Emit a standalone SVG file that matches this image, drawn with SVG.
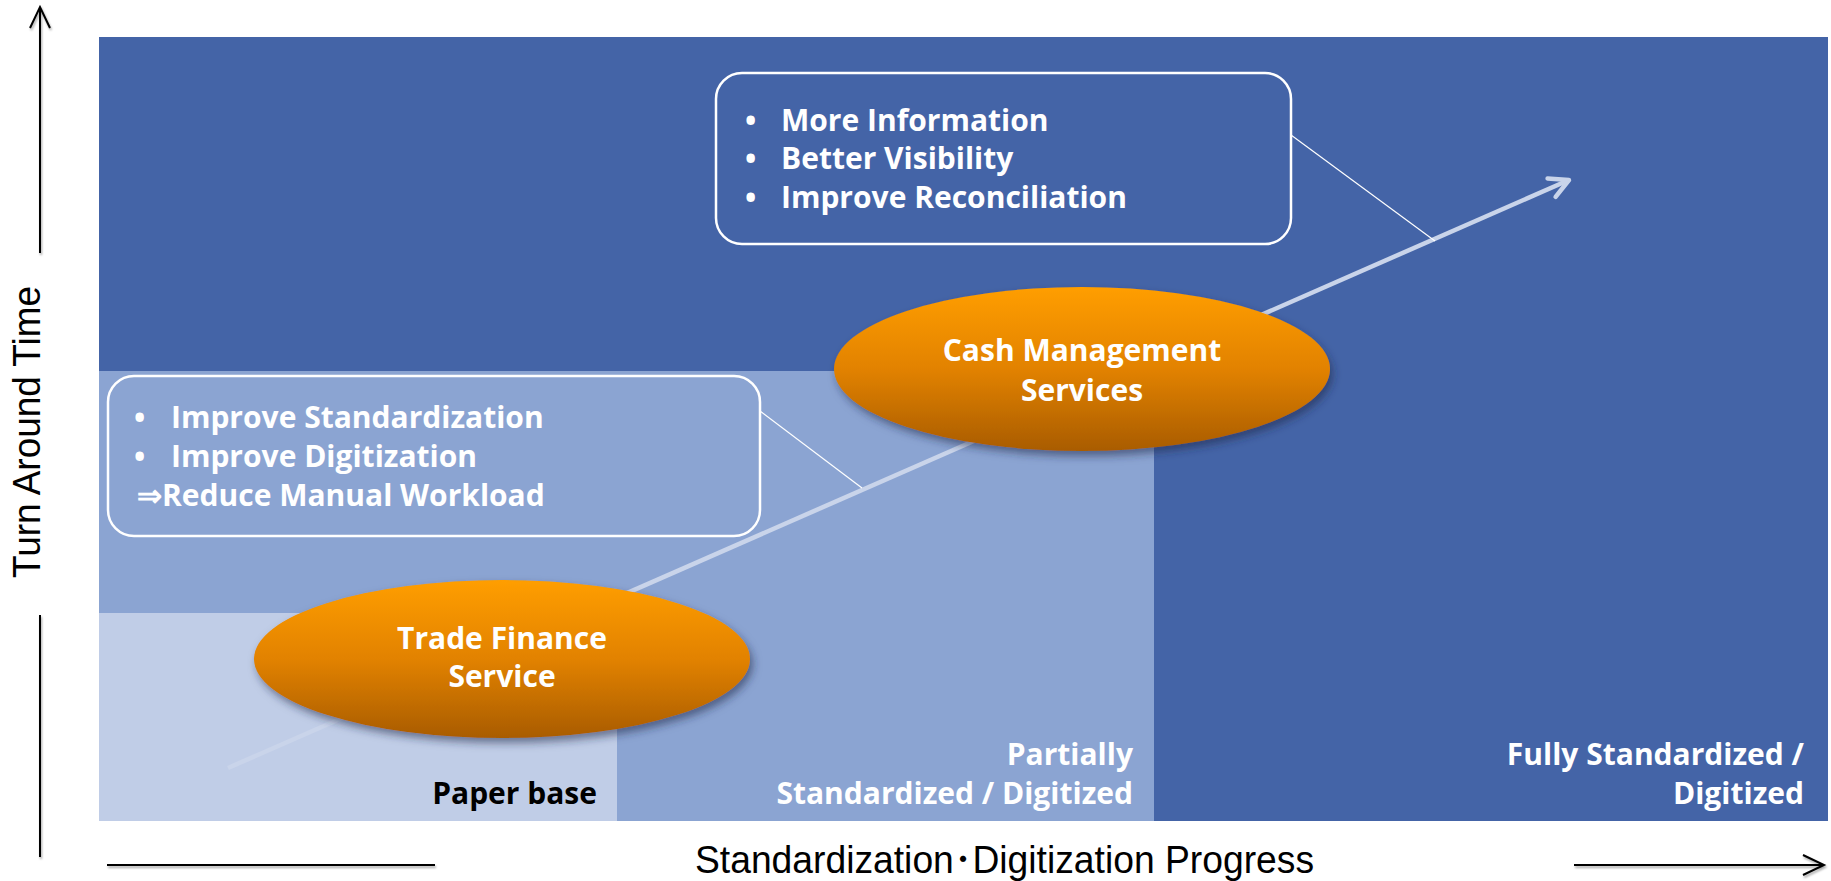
<svg xmlns="http://www.w3.org/2000/svg" width="1831" height="881" viewBox="0 0 1831 881">
<defs>
<style>
.ax{stroke:#000;stroke-width:2;fill:none}
.axt{font-family:"Liberation Sans",Arial,"Noto Sans CJK JP",sans-serif;font-size:38px;fill:#000}
.bt{font-family:"Open Sans","Noto Sans",sans-serif;font-weight:bold;font-size:30px;fill:#fff}
.lbl{font-family:"Open Sans","Noto Sans",sans-serif;font-weight:bold;font-size:30px;text-anchor:end}
.box{fill:none;stroke:#fff;stroke-width:2.5}
.lead{stroke:#fff;stroke-width:1.2;fill:none}
.ell{fill:url(#og);filter:url(#sh)}
.et{font-family:"Open Sans","Noto Sans",sans-serif;font-weight:bold;font-size:30px;fill:#fff;text-anchor:middle}
</style>
<linearGradient id="og" x1="0" y1="0" x2="0" y2="1">
<stop offset="0" stop-color="#FF9E00"/>
<stop offset="0.5" stop-color="#E28200"/>
<stop offset="1" stop-color="#A95C00"/>
</linearGradient>
<filter id="sh" x="-10%" y="-20%" width="125%" height="150%">
<feDropShadow dx="3" dy="5" stdDeviation="4" flood-color="#1a2a4a" flood-opacity="0.55"/>
</filter>
<filter id="ash" x="-5%" y="-50%" width="110%" height="300%">
<feDropShadow dx="1" dy="2" stdDeviation="1.2" flood-color="#000" flood-opacity="0.35"/>
</filter>
<marker id="blk" markerUnits="userSpaceOnUse" markerWidth="40" markerHeight="40" viewBox="-30 -20 40 40" refX="0" refY="0" orient="auto" overflow="visible">
<path d="M-21,-10 L0,0 L-21,10" fill="none" stroke="#000" stroke-width="2"/>
</marker>
<marker id="big" markerUnits="userSpaceOnUse" markerWidth="40" markerHeight="40" viewBox="-30 -20 40 40" refX="0" refY="0" orient="auto" overflow="visible">
<path d="M-19,-10 L0,0 L-19,10" fill="none" stroke="#C9D4EA" stroke-width="4.5" stroke-linecap="round" stroke-linejoin="round"/>
</marker>
</defs>

<g id="background">
<rect x="99" y="37" width="1729" height="784" fill="#4464A7"/>
<rect x="99" y="371" width="1055" height="450" fill="#8BA4D2"/>
<rect x="99" y="613" width="518" height="208" fill="#C0CDE7"/>
</g>

<g id="axes">
<g filter="url(#ash)">
<line class="ax" x1="40" y1="253" x2="40" y2="7" marker-end="url(#blk)"/>
<line class="ax" x1="40" y1="615" x2="40" y2="857"/>
<line class="ax" x1="107" y1="865" x2="435" y2="865"/>
<line class="ax" x1="1574" y1="865" x2="1824" y2="865" marker-end="url(#blk)"/>
</g>
<text class="axt" transform="translate(40 578) rotate(-90)" textLength="292" lengthAdjust="spacingAndGlyphs">Turn Around Time</text>
<text class="axt" x="695" y="873" textLength="619" lengthAdjust="spacingAndGlyphs">Standardization･Digitization Progress</text>
</g>

<g id="box-top">
<rect class="box" x="716" y="73" width="575" height="171" rx="26"/>
<text class="bt" x="745" y="131">•</text>
<text class="bt" x="781" y="131">More Information</text>
<text class="bt" x="745" y="169">•</text>
<text class="bt" x="781" y="169">Better Visibility</text>
<text class="bt" x="745" y="208">•</text>
<text class="bt" x="781" y="208">Improve Reconciliation</text>
</g>

<g id="box-mid">
<rect class="box" x="108" y="376" width="652" height="160" rx="26"/>
<text class="bt" x="134" y="428">•</text>
<text class="bt" x="171" y="428">Improve Standardization</text>
<text class="bt" x="134" y="467">•</text>
<text class="bt" x="171" y="467">Improve Digitization</text>
<text class="bt" x="137" y="506">⇒Reduce Manual Workload</text>
</g>

<g id="connectors">
<line x1="228" y1="768" x2="1569" y2="180" stroke="#C9D4EA" stroke-width="4.5" marker-end="url(#big)"/>
<line class="lead" x1="1291" y1="135" x2="1435" y2="241"/>
<line class="lead" x1="760" y1="411" x2="862" y2="488"/>
</g>

<g id="node-cash">
<ellipse class="ell" cx="1082" cy="369" rx="248" ry="82"/>
<text class="et" x="1082" y="361">Cash Management</text>
<text class="et" x="1082" y="401">Services</text>
</g>

<g id="node-trade">
<ellipse class="ell" cx="502" cy="659" rx="248" ry="79"/>
<text class="et" x="502" y="649">Trade Finance</text>
<text class="et" x="502" y="687">Service</text>
</g>

<g id="labels">
<text class="lbl" x="597" y="804" fill="#000">Paper base</text>
<text class="lbl" x="1133" y="765" fill="#fff">Partially</text>
<text class="lbl" x="1133" y="804" fill="#fff">Standardized / Digitized</text>
<text class="lbl" x="1804" y="765" fill="#fff">Fully Standardized /</text>
<text class="lbl" x="1804" y="804" fill="#fff">Digitized</text>
</g>
</svg>
